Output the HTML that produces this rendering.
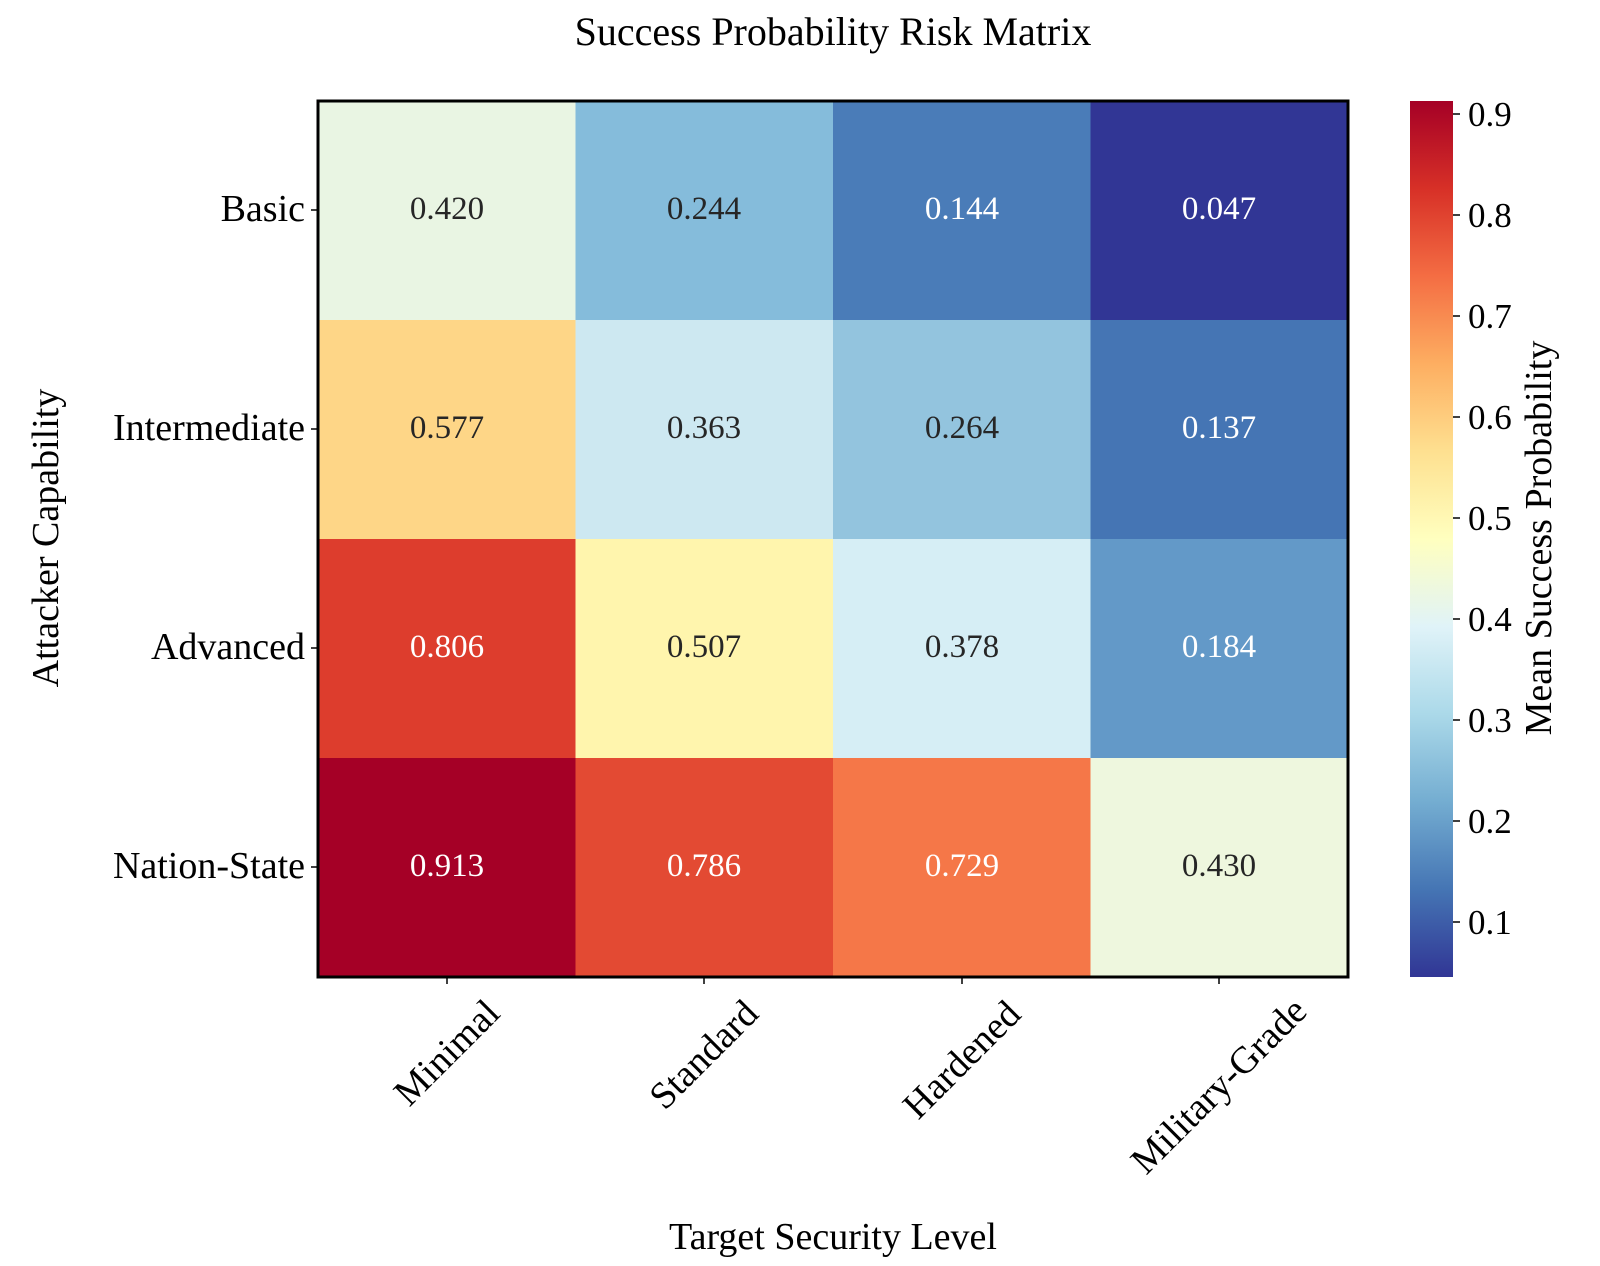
<!DOCTYPE html>
<html><head><meta charset="utf-8"><style>
html,body{margin:0;padding:0;background:#fff;}
svg text{font-family:"Liberation Serif",serif;}
</style></head><body>
<svg width="1600" height="1261" viewBox="0 0 1600 1261" xmlns="http://www.w3.org/2000/svg">
<defs>
<linearGradient id="cb" x1="0" y1="1" x2="0" y2="0">
<stop offset="0" stop-color="#313695"/><stop offset="0.1" stop-color="#4575b4"/>
<stop offset="0.2" stop-color="#74add1"/><stop offset="0.3" stop-color="#abd9e9"/>
<stop offset="0.4" stop-color="#e0f3f8"/><stop offset="0.5" stop-color="#ffffbf"/>
<stop offset="0.6" stop-color="#fee090"/><stop offset="0.7" stop-color="#fdae61"/>
<stop offset="0.8" stop-color="#f46d43"/><stop offset="0.9" stop-color="#d73027"/>
<stop offset="1" stop-color="#a50026"/>
</linearGradient>
</defs>
<text x="833" y="45" font-size="40" text-anchor="middle">Success Probability Risk Matrix</text>
<g>
<rect x="318" y="101" width="258" height="219" fill="#e9f5e3"/>
<rect x="575.5" y="101" width="258" height="219" fill="#85bcdb"/>
<rect x="833" y="101" width="258" height="219" fill="#4a7cb8"/>
<rect x="1090.5" y="101" width="258" height="219" fill="#313695"/>
<rect x="318" y="320" width="258" height="219" fill="#fed687"/>
<rect x="575.5" y="320" width="258" height="219" fill="#cde8f1"/>
<rect x="833" y="320" width="258" height="219" fill="#93c4de"/>
<rect x="1090.5" y="320" width="258" height="219" fill="#4575b4"/>
<rect x="318" y="539" width="258" height="219" fill="#dd3d2d"/>
<rect x="575.5" y="539" width="258" height="219" fill="#fff5ad"/>
<rect x="833" y="539" width="258" height="219" fill="#d6eef5"/>
<rect x="1090.5" y="539" width="258" height="219" fill="#6399c8"/>
<rect x="318" y="758" width="258" height="219" fill="#a50026"/>
<rect x="575.5" y="758" width="258" height="219" fill="#e34a33"/>
<rect x="833" y="758" width="258" height="219" fill="#f57748"/>
<rect x="1090.5" y="758" width="258" height="219" fill="#eef7de"/>
</g>
<g font-size="33" text-anchor="middle">
<text x="447" y="219" fill="#262626">0.420</text><text x="704" y="219" fill="#262626">0.244</text>
<text x="962" y="219" fill="#fff">0.144</text><text x="1219" y="219" fill="#fff">0.047</text>
<text x="447" y="438" fill="#262626">0.577</text><text x="704" y="438" fill="#262626">0.363</text>
<text x="962" y="438" fill="#262626">0.264</text><text x="1219" y="438" fill="#fff">0.137</text>
<text x="447" y="657" fill="#fff">0.806</text><text x="704" y="657" fill="#262626">0.507</text>
<text x="962" y="657" fill="#262626">0.378</text><text x="1219" y="657" fill="#fff">0.184</text>
<text x="447" y="876" fill="#fff">0.913</text><text x="704" y="876" fill="#fff">0.786</text>
<text x="962" y="876" fill="#fff">0.729</text><text x="1219" y="876" fill="#262626">0.430</text>
</g>
<rect x="318" y="101" width="1030" height="876" fill="none" stroke="#000" stroke-width="3"/>
<g stroke="#000" stroke-width="1.5">
<line x1="311" y1="210" x2="318" y2="210"/><line x1="311" y1="429" x2="318" y2="429"/>
<line x1="311" y1="648" x2="318" y2="648"/><line x1="311" y1="867" x2="318" y2="867"/>
<line x1="447" y1="977" x2="447" y2="984"/><line x1="704" y1="977" x2="704" y2="984"/>
<line x1="962" y1="977" x2="962" y2="984"/><line x1="1219" y1="977" x2="1219" y2="984"/>
</g>
<g font-size="38" text-anchor="end">
<text x="305" y="221">Basic</text><text x="305" y="440">Intermediate</text>
<text x="305" y="659">Advanced</text><text x="305" y="878">Nation-State</text>
</g>
<g font-size="38" text-anchor="middle" dominant-baseline="central">
<text transform="translate(447,1053) rotate(-45)">Minimal</text>
<text transform="translate(704,1055) rotate(-45)">Standard</text>
<text transform="translate(962,1060) rotate(-45)">Hardened</text>
<text transform="translate(1219,1086) rotate(-45)">Military-Grade</text>
</g>
<text x="833" y="1249" font-size="38" text-anchor="middle">Target Security Level</text>
<text transform="translate(58,538) rotate(-90)" font-size="38" text-anchor="middle">Attacker Capability</text>
<rect x="1410" y="101" width="43" height="876" fill="url(#cb)"/>
<g stroke="#000" stroke-width="1.5">
<line x1="1453" y1="114" x2="1460" y2="114"/><line x1="1453" y1="215" x2="1460" y2="215"/>
<line x1="1453" y1="316" x2="1460" y2="316"/><line x1="1453" y1="417" x2="1460" y2="417"/>
<line x1="1453" y1="518" x2="1460" y2="518"/><line x1="1453" y1="619" x2="1460" y2="619"/>
<line x1="1453" y1="720" x2="1460" y2="720"/><line x1="1453" y1="821" x2="1460" y2="821"/>
<line x1="1453" y1="922" x2="1460" y2="922"/>
</g>
<g font-size="35">
<text x="1468" y="126">0.9</text><text x="1468" y="227">0.8</text><text x="1468" y="328">0.7</text>
<text x="1468" y="429">0.6</text><text x="1468" y="530">0.5</text><text x="1468" y="631">0.4</text>
<text x="1468" y="732">0.3</text><text x="1468" y="833">0.2</text><text x="1468" y="934">0.1</text>
</g>
<text transform="translate(1551,538) rotate(-90)" font-size="38" text-anchor="middle">Mean Success Probability</text>
</svg>
</body></html>
